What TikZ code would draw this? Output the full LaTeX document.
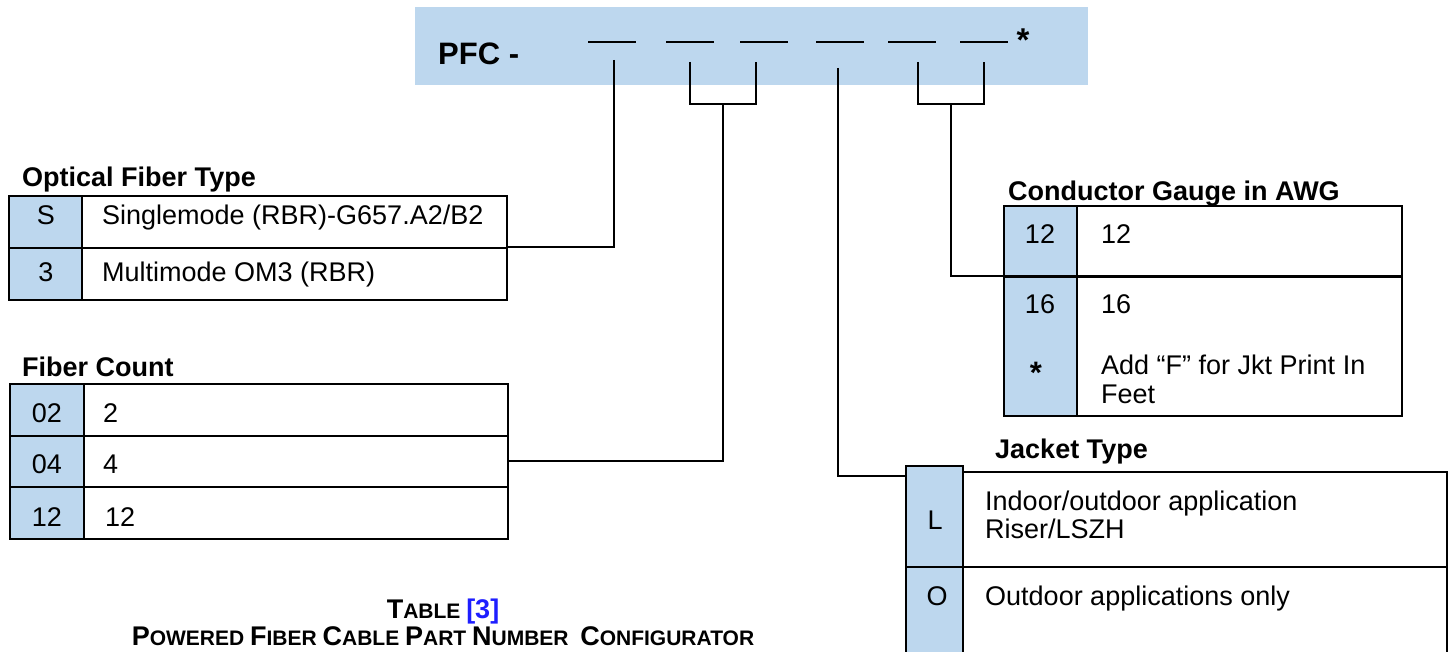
\documentclass[tikz,border=0pt]{standalone}
\usepackage{fontspec}
\setmainfont{Liberation Sans}
\definecolor{lblue}{RGB}{189,215,238}
\definecolor{refblue}{RGB}{30,30,255}
\begin{document}
\begin{tikzpicture}[x=1pt,y=-1pt,
  body/.style={font=\fontsize{27}{32}\selectfont, inner sep=0pt, anchor=base west},
  bodyc/.style={font=\fontsize{27}{32}\selectfont, inner sep=0pt, anchor=base},
  ttl/.style={font=\bfseries\fontsize{27}{32}\selectfont, inner sep=0pt, anchor=base west},
  cell/.style={draw=black, line width=2pt, fill=white},
  bcell/.style={draw=black, line width=2pt, fill=lblue},
  wire/.style={line width=2pt},
  blank/.style={line width=2.5pt}]
\useasboundingbox (0,0) rectangle (1451,652);
\begin{scope}
\clip (0,0) rectangle (1451,652);
% ---------- header band ----------
\fill[lblue] (415,7) rectangle (1088,85);
\node[font=\bfseries\fontsize{31}{36}\selectfont, inner sep=0pt, anchor=base west] (pfc) at (438,65) {PFC -};
\draw[blank] (588,42) -- (636,42);
\draw[blank] (666,42) -- (714,42);
\draw[blank] (740,42) -- (788,42);
\draw[blank] (816,42) -- (864,42);
\draw[blank] (888,42) -- (936,42);
\draw[blank] (960,42) -- (1008,42);
\node[font=\bfseries\fontsize{33}{36}\selectfont, inner sep=0pt] (star) at (1023,40) {*};
% tick coordinates
\coordinate (t1) at (614,60);
\coordinate (t2) at (690,62);
\coordinate (t3) at (756,62);
\coordinate (t4) at (838,68);
\coordinate (t5) at (918,62);
\coordinate (t6) at (984,62);
% ---------- titles (drawn first, tables cover descenders) ----------
\node[ttl] (oftT) at (22,187) {Optical Fiber Type};
\node[ttl] (fcT) at (22,376) {Fiber Count};
\node[ttl] (cgT) at (1008,201) {Conductor Gauge in AWG};
\node[ttl] (jtT) at (995,458) {Jacket Type};
% ---------- Optical Fiber Type table ----------
\draw[cell] (82,196) rectangle (507,248);
\draw[bcell] (9,196) rectangle (82,248);
\node[bodyc] (ofS) at (46,225) {S};
\begin{scope}
\clip (90,198) rectangle (505,229.5);
\node[body] (ofSt) at (102,225) {Singlemode (RBR)-G657.A2/B2};
\end{scope}
\draw[cell] (82,248) rectangle (507,300);
\draw[bcell] (9,248) rectangle (82,300);
\node[bodyc] (of3) at (46,282) {3};
\node[body] (of3t) at (102,282) {Multimode OM3 (RBR)};
\coordinate (ofR) at (507,247);
% ---------- Fiber Count table ----------
\draw[cell] (84,384) rectangle (508,436);
\draw[bcell] (10,384) rectangle (84,436);
\draw[cell] (84,436) rectangle (508,487);
\draw[bcell] (10,436) rectangle (84,487);
\draw[cell] (84,487) rectangle (508,539);
\draw[bcell] (10,487) rectangle (84,539);
\node[bodyc] (fc02) at (47,422) {02};
\node[body] (fc02t) at (103,422) {2};
\node[bodyc] (fc04) at (47,473) {04};
\node[body] (fc04t) at (103,473) {4};
\node[bodyc] (fc12) at (47,526) {12};
\node[body] (fc12t) at (105,526) {12};
\coordinate (fcR) at (508,461);
% ---------- Conductor Gauge table ----------
\draw[cell] (1077,206) rectangle (1402,277);
\draw[bcell] (1004,206) rectangle (1077,277);
\draw[cell] (1077,277) rectangle (1402,416);
\draw[bcell] (1004,277) rectangle (1077,416);
\draw[line width=3pt] (1004,277) -- (1402,277);
\node[bodyc] (cg12) at (1040,244) {12};
\node[body] (cg12t) at (1101,244) {12};
\node[bodyc] (cg16) at (1040,313) {16};
\node[body] (cg16t) at (1101,313) {16};
\node[font=\bfseries\fontsize{31}{36}\selectfont, inner sep=0pt] (cgst) at (1036,373) {*};
\node[body] (cgstt) at (1101,374) {Add “F” for Jkt Print In};
\node[body] (cgstt2) at (1101,403) {Feet};
\coordinate (cgL) at (1004,276);
% ---------- Jacket Type table ----------
\draw[cell] (963,472) rectangle (1447,567);
\draw[bcell] (906,466) rectangle (963,567);
\draw[cell] (963,567) rectangle (1447,700);
\draw[bcell] (906,567) rectangle (963,700);
\node[bodyc] (jtL) at (935,529) {L};
\node[body] (jtLt) at (985,510) {Indoor/outdoor application};
\node[body] (jtLt2) at (985,538) {Riser/LSZH};
\node[bodyc] (jtO) at (937,605) {O};
\node[body] (jtOt) at (985,605) {Outdoor applications only};
\coordinate (jtL0) at (906,476);
% ---------- connectors ----------
\draw[wire] (t1) |- (ofR);
\draw[wire] (t2) |- (723,104) coordinate (b1) -| (t3);
\draw[wire] (b1) |- (fcR);
\draw[wire] (t4) |- (jtL0);
\draw[wire] (t5) |- (951,104) coordinate (b2) -| (t6);
\draw[wire] (b2) |- (cgL);
% ---------- caption ----------
\node[inner sep=0pt, anchor=base] (capA) at (443,618)
  {\bfseries\fontsize{27}{30}\selectfont T\fontsize{21}{24}\selectfont ABLE \fontsize{27}{30}\selectfont\textcolor{refblue}{[3]}};
\node[inner sep=0pt, anchor=base] (capB) at (443,645)
  {\bfseries\fontsize{27}{30}\selectfont P\fontsize{21}{24}\selectfont OWERED
   \fontsize{27}{30}\selectfont F\fontsize{21}{24}\selectfont IBER
   \fontsize{27}{30}\selectfont C\fontsize{21}{24}\selectfont ABLE
   \fontsize{27}{30}\selectfont P\fontsize{21}{24}\selectfont ART
   \fontsize{27}{30}\selectfont N\fontsize{21}{24}\selectfont UMBER\ \
   \fontsize{27}{30}\selectfont C\fontsize{21}{24}\selectfont ONFIGURATOR};
\end{scope}
\end{tikzpicture}
\end{document}
